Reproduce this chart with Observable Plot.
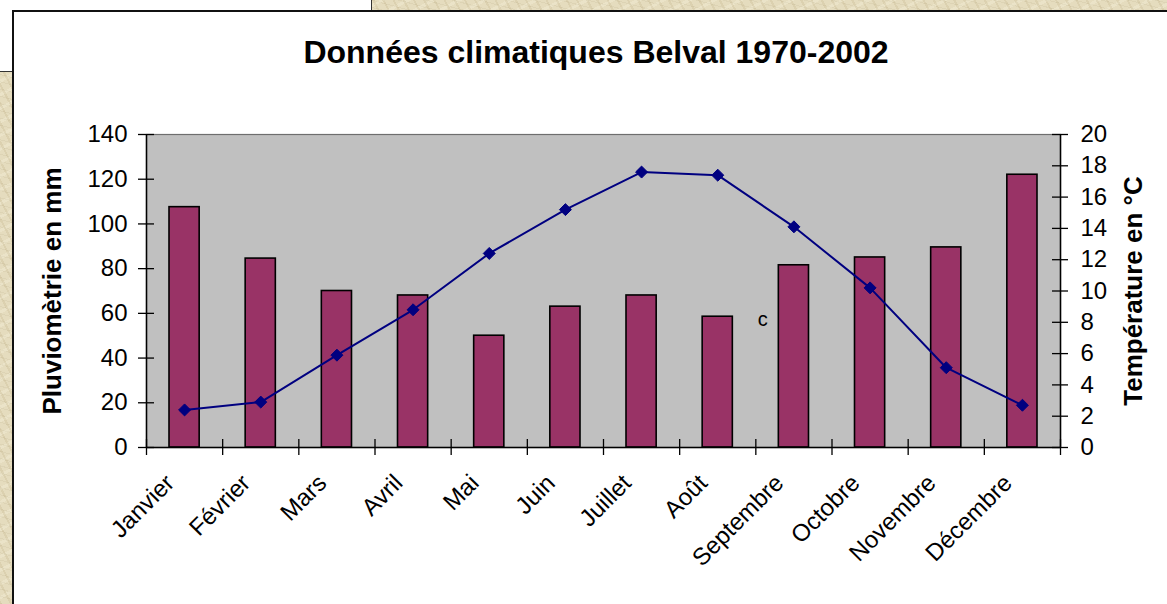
<!DOCTYPE html>
<html>
<head>
<meta charset="utf-8">
<script src="https://cdn.jsdelivr.net/npm/d3@7"></script>
<script src="https://cdn.jsdelivr.net/npm/@observablehq/plot@0.6"></script>
<style>
html, body { margin: 0; padding: 0; width: 1167px; height: 604px; overflow: hidden; }
body {
  position: relative;
  font-family: "Liberation Sans", Arial, sans-serif;
  background-color: #e5dcbe;
  background-image:
    repeating-linear-gradient(62deg, rgba(170,150,100,0.16) 0 2px, transparent 2px 9px),
    repeating-linear-gradient(-28deg, rgba(255,252,235,0.22) 0 3px, transparent 3px 12px),
    repeating-linear-gradient(15deg, rgba(150,135,95,0.10) 0 1px, transparent 1px 7px);
}
#box { position: absolute; left: 0; top: 0; width: 371px; height: 71px; background: #fff;
  border-right: 1px solid #333; border-bottom: 1px solid #333; }
#panel { position: absolute; left: 12px; top: 10px; right: -10px; bottom: -10px; background: #fff;
  border-left: 2px solid #111; border-top: 2px solid #111; }
#title { position: absolute; left: 0; width: 1192px; top: 34px; line-height: 36px; text-align: center;
  font-weight: bold; font-size: 32px; color: #000; }
#chart { position: absolute; left: 0; top: 0; }
</style>
</head>
<body>
<div id="box"></div>
<div id="panel"></div>
<div id="title">Données climatiques Belval 1970-2002</div>
<div id="chart"></div>
<script>
const months = ["Janvier", "Février", "Mars", "Avril", "Mai", "Juin", "Juillet", "Août", "Septembre", "Octobre", "Novembre", "Décembre"];
const rain = [107.5, 84.5, 70, 68, 50, 63, 68, 58.5, 81.5, 85, 89.5, 122];
const temp = [2.4, 2.9, 5.9, 8.8, 12.4, 15.2, 17.6, 17.4, 14.1, 10.2, 5.1, 2.7];
const rainTicks = [0, 20, 40, 60, 80, 100, 120, 140];
const tempTicks = [0, 2, 4, 6, 8, 10, 12, 14, 16, 18, 20];
const leftTitle = ["Pluviomètrie en mm"];
const rightTitle = ["Température en °C"];
const strayNote = [{text: "c", between: 8, value: 57}];

const ratio = 140 / 20;
const data = months.map((m, i) => ({month: m, i, rain: rain[i], temp: temp[i]}));
const boundaries = d3.range(months.length + 1);

const plot = Plot.plot({
  width: 1167,
  height: 604,
  marginLeft: 146,
  marginRight: 107,
  marginTop: 134,
  marginBottom: 157,
  style: {background: "transparent", fontFamily: "Liberation Sans, Arial, sans-serif", color: "#000"},
  x: {type: "linear", domain: [0, months.length], axis: null},
  y: {domain: [0, 140]},
  marks: [
    Plot.frame({fill: "#c0c0c0", stroke: "#6e6e6e", strokeWidth: 1.2}),
    Plot.rectY(data, {x1: d => d.i, x2: d => d.i + 1, y: "rain", insetLeft: 23, insetRight: 23,
      fill: "#993366", stroke: "#000", strokeWidth: 1.6}),
    Plot.line(data, {x: d => d.i + 0.5, y: d => d.temp * ratio, stroke: "#000080", strokeWidth: 2}),
    Plot.dot(data, {x: d => d.i + 0.5, y: d => d.temp * ratio, symbol: "diamond2", r: 5.4,
      fill: "#000080", stroke: "#000080", strokeWidth: 1}),
    Plot.ruleX([0, months.length], {stroke: "#000", strokeWidth: 1.5}),
    Plot.ruleY([0], {stroke: "#000", strokeWidth: 1.5}),
    // cross ticks
    Plot.ruleY(rainTicks, {x1: 0, x2: 0, insetLeft: -8, insetRight: -8, stroke: "#000", strokeWidth: 1.3}),
    Plot.ruleY(tempTicks.map(t => t * ratio), {x1: months.length, x2: months.length, insetLeft: -8, insetRight: -8, stroke: "#000", strokeWidth: 1.3}),
    Plot.ruleX(boundaries, {y1: 0, y2: 0, insetTop: -8, insetBottom: -8, stroke: "#000", strokeWidth: 1.3}),
    // tick labels
    Plot.axisY(rainTicks, {anchor: "left", tickSize: 0, tickPadding: 19, fontSize: 24, label: null}),
    Plot.axisY(tempTicks.map(t => t * ratio), {anchor: "right", tickSize: 0, tickPadding: 20, fontSize: 24, label: null,
      tickFormat: d => String(Math.round(d / ratio))}),
    Plot.text(data, {x: d => d.i + 0.5, frameAnchor: "bottom", text: "month", rotate: -45, textAnchor: "end",
      dx: -9, dy: 37, fontSize: 24}),
    // axis titles
    Plot.text(leftTitle, {frameAnchor: "left", text: d => d, rotate: -90, textAnchor: "middle", dx: -94, fontSize: 26, fontWeight: "bold"}),
    Plot.text(rightTitle, {frameAnchor: "right", text: d => d, rotate: -90, textAnchor: "middle", dx: 73, fontSize: 26, fontWeight: "bold"}),
    Plot.text(strayNote, {x: "between", y: "value", text: "text", dx: 7, fontSize: 20})
  ]
});
document.getElementById("chart").append(plot);
</script>
</body>
</html>
